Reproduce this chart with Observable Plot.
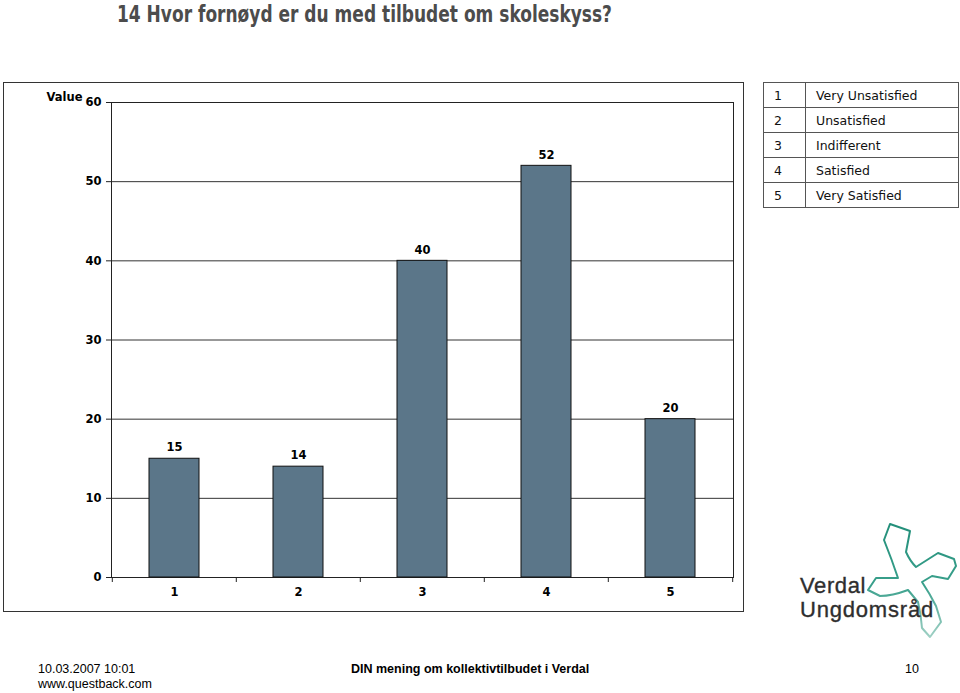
<!DOCTYPE html>
<html><head><meta charset="utf-8">
<script src="https://cdn.jsdelivr.net/npm/d3@7"></script>
<script src="https://cdn.jsdelivr.net/npm/@observablehq/plot@0.6"></script>
<style>
html,body{margin:0;padding:0;background:#fff}
body{width:960px;height:693px;position:relative;overflow:hidden;font-family:"DejaVu Sans",sans-serif}
#title{position:absolute;left:117px;top:1px;font:bold 23px "Liberation Sans Narrow","DejaVu Sans Condensed","DejaVu Sans",sans-serif;color:#4c4c4c;white-space:nowrap;line-height:27px;transform-origin:0 0}
#frame{position:absolute;left:3px;top:82px;width:739px;height:528px;border:1px solid #333}
#frame svg{display:block}
#legend{position:absolute;left:763px;top:82px;border-collapse:collapse;font:12.5px "DejaVu Sans",sans-serif;color:#111}
#legend td{border:1px solid #555;height:24px;padding:0 0 0 10px;white-space:nowrap}
#legend td.n{width:31px}
#legend td.l{width:142px}
.foot{position:absolute;font:12.5px "Liberation Sans",sans-serif;color:#000;white-space:nowrap}
#logo{position:absolute;left:780px;top:510px}
</style></head>
<body>
<div id="title"></div>
<div id="frame"></div>
<table id="legend"></table>
<div class="foot" id="f1" style="left:38px;top:662px;line-height:15px"></div>
<div class="foot" id="f2" style="left:351px;top:662px;font-weight:bold"></div>
<div class="foot" id="f3" style="left:905px;top:662px"></div>
<svg id="logo" width="180" height="140" viewBox="0 0 180 140">
  <defs>
    <linearGradient id="starGrad" x1="0" y1="0" x2="0" y2="1">
      <stop offset="0" stop-color="#238f7a"/>
      <stop offset="0.55" stop-color="#3aa08c"/>
      <stop offset="1" stop-color="#9fd0c4"/>
    </linearGradient>
  </defs>
  <path d="M104 30 L110 14 L130 21 L126 42 Q130 51 136 57 L158 43 L174 49 L176 56 L168 69 L152 66 L142 72 Q150 84 156 96 L161 112 L150 127 L142 118 Q141 104 138 92 L128 80 Q112 86 100 86 L88 80 L96 68 L118 68 Q112 50 104 30 Z"
        fill="none" stroke="url(#starGrad)" stroke-width="2" stroke-linejoin="round"/>
  <text x="20" y="83" font-family="Liberation Sans" font-size="22" fill="#2e2e2e" stroke="#2e2e2e" stroke-width="0.35" letter-spacing="0.6">Verdal</text>
  <text x="20" y="107" font-family="Liberation Sans" font-size="22" fill="#2e2e2e" stroke="#2e2e2e" stroke-width="0.35" letter-spacing="0.8">Ungdomsråd</text>
</svg>
<script>
const titleText = "14 Hvor fornøyd er du med tilbudet om skoleskyss?";
const categories = ["1", "2", "3", "4", "5"];
const values = [15, 14, 40, 52, 20];
const categoryLabels = ["Very Unsatisfied", "Unsatisfied", "Indifferent", "Satisfied", "Very Satisfied"];
const yTicks = [0, 10, 20, 30, 40, 50, 60];
const yLabel = "Value";
const footerLeft = ["10.03.2007 10:01", "www.questback.com"];
const footerCenter = "DIN mening om kollektivtilbudet i Verdal";
const footerRight = "10";

const titleEl = document.getElementById("title");
titleEl.textContent = titleText;
const tw = titleEl.getBoundingClientRect().width;
if (tw > 0) titleEl.style.transform = `scaleX(${495 / tw})`;
document.getElementById("f1").innerHTML = footerLeft.join("<br>");
document.getElementById("f2").textContent = footerCenter;
document.getElementById("f3").textContent = footerRight;

const legend = document.getElementById("legend");
categories.forEach((c, i) => {
  const tr = document.createElement("tr");
  const a = document.createElement("td"); a.className = "n"; a.textContent = c;
  const b = document.createElement("td"); b.className = "l"; b.textContent = categoryLabels[i];
  tr.append(a, b); legend.append(tr);
});

const data = categories.map((c, i) => ({cat: c, value: values[i]}));
const W = 739, H = 528, ml = 107, mr = 10, mt = 19, mb = 34;
const halfStep = (W - ml - mr) / categories.length / 2;
const boundaryOpts = {x: d => d, insetTop: H - mt - mb, insetBottom: -5, stroke: "#222", strokeWidth: 1};

const chart = Plot.plot({
  width: W, height: H,
  marginLeft: ml, marginRight: mr, marginTop: mt, marginBottom: mb,
  style: {fontFamily: "DejaVu Sans", fontSize: "11.5px", fontWeight: "bold", color: "#000", background: "transparent", overflow: "visible"},
  x: {domain: categories, paddingInner: 0.6, paddingOuter: 0.3, label: null},
  y: {domain: [0, 60], label: null},
  marks: [
    Plot.ruleY(yTicks.slice(1), {stroke: "#333", strokeWidth: 1}),
    Plot.frame({stroke: "#222", strokeWidth: 1}),
    Plot.barY(data, {x: "cat", y: "value", fill: "#5b7689", stroke: "#111", strokeWidth: 1}),
    Plot.text(data, {x: "cat", y: "value", text: d => String(d.value), dy: -11, fill: "#000"}),
    Plot.axisY({ticks: yTicks, tickSize: 5, tickPadding: 5, label: null, stroke: "#222"}),
    Plot.axisX({tickSize: 0, tickPadding: 10, label: null}),
    Plot.ruleX(categories, {...boundaryOpts, dx: -halfStep}),
    Plot.ruleX(categories.slice(-1), {...boundaryOpts, dx: halfStep}),
    Plot.text([yLabel], {frameAnchor: "top-left", dx: -29, dy: -10, textAnchor: "end", fill: "#000"})
  ]
});
document.getElementById("frame").append(chart);
</script>
</body></html>
